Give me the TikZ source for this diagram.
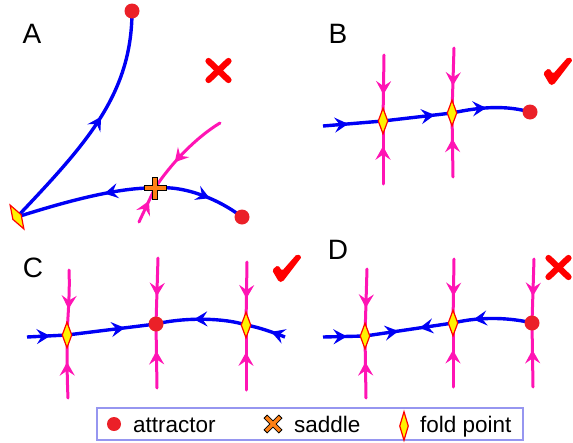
\documentclass[tikz,border=0pt]{standalone}
\usepackage{fontspec}
\setmainfont{Liberation Sans}
\usetikzlibrary{arrows.meta,decorations.markings,shapes.geometric}
\definecolor{fblue}{RGB}{0,0,245}
\definecolor{fmag}{RGB}{255,20,180}
\definecolor{fred}{RGB}{235,32,40}
\definecolor{xred}{RGB}{255,0,0}
\definecolor{sorange}{RGB}{255,128,20}
\definecolor{lbox}{RGB}{150,150,240}
\pgfdeclarelayer{bg}
\pgfsetlayers{bg,main}
\tikzset{
  headtip/.tip={Stealth[length=13.5pt,width=15pt,inset=5pt]},
  flowline/.style={fblue, line width=3.4pt},
  sepline/.style={fmag, line width=3pt, line cap=round},
  tipat/.style={postaction={decorate}, decoration={markings,
      mark=at position #1 with {\arrow{headtip}}}},
  tiptwo/.style 2 args={postaction={decorate}, decoration={markings,
      mark=at position #1 with {\arrow{headtip}},
      mark=at position #2 with {\arrowreversed{headtip}}}},
  attr/.style={circle, fill=fred, minimum size=15pt, inner sep=0pt},
  fold/.style={diamond, fill=yellow, draw=xred, line width=1.2pt,
      minimum width=10pt, minimum height=26pt, inner sep=0pt},
  lab/.style={font=\fontsize{28}{30}\selectfont, anchor=base, inner sep=0pt},
  legtext/.style={font=\fontsize{22.5}{25}\selectfont, anchor=base west, inner sep=0pt},
  saddlemark/.pic={
    \filldraw[fill=sorange, draw=black, line width=0.8pt]
      (-2.3,-11) -- (2.3,-11) -- (2.3,-2.3) -- (11,-2.3) -- (11,2.3) -- (2.3,2.3)
      -- (2.3,11) -- (-2.3,11) -- (-2.3,2.3) -- (-11,2.3) -- (-11,-2.3) -- (-2.3,-2.3) -- cycle;
  },
  checkmk/.pic={
    \fill[xred, rounded corners=1.8pt]
      (0,16) -- (6,11) -- (10,17) -- (25,0) -- (30,2.5) -- (10.5,28) -- (7,28) -- cycle;
  },
  crossmk/.pic={
    \draw[xred, line width=6.2pt, line cap=round] (-10,-9.5) -- (10,9.5);
    \draw[xred, line width=6.2pt, line cap=round] (10,-9.5) -- (-10,9.5);
  },
}
\begin{document}
\begin{tikzpicture}[x=1pt, y=-1pt]
\useasboundingbox (0,0) rectangle (573,442);

% ---------------- Panel A ----------------
\node[lab] (labA) at (32,43) {A};
\node[attr] (aA1) at (132,11) {};
\node[attr] (aA2) at (242,217) {};
\node[fold, rotate=30, minimum height=28pt] (fA) at (17,217) {};
\coordinate (sA) at (155,188);
\coordinate (mA1) at (220,123);
\coordinate (mA2) at (139,222);
\begin{pgfonlayer}{bg}
\draw[flowline, tipat=0.54] (fA.center) .. controls (85,145) and (132,95) .. (aA1.center);
\draw[flowline, tipat=0.36] (sA) .. controls (115,187) and (55,205) .. (fA.center);
\draw[flowline, tipat=0.6] (sA) .. controls (185,185) and (220,200) .. (aA2.center);
\draw[sepline, tipat=0.65] (mA1) .. controls (195,138) and (170,165) .. (sA);
\draw[sepline, tipat=0.62] (mA2) -- (sA);
\end{pgfonlayer}
\pic at (sA) {saddlemark};
\pic at (218.5,70.5) {crossmk};

% ---------------- Panel B ----------------
\node[lab] (labB) at (338,43) {B};
\node[fold] (fB1) at (383,121) {};
\node[fold] (fB2) at (452,113) {};
\node[attr] (aB) at (530,112) {};
\coordinate (sB) at (323,126);
\coordinate (tB1) at (384,55);
\coordinate (bB1) at (383,184);
\coordinate (tB2) at (454,48);
\coordinate (bB2) at (453,177);
\begin{pgfonlayer}{bg}
\draw[flowline, tipat=0.42] (sB) -- (fB1.center);
\draw[flowline, tipat=0.75] (fB1.center) -- (fB2.center);
\draw[flowline, tipat=0.44] (fB2.center) .. controls (480,107) and (505,105) .. (aB.center);
\draw[sepline, tipat=0.6] (tB1) -- (fB1.center);
\draw[sepline, tipat=0.6] (bB1) -- (fB1.center);
\draw[sepline, tipat=0.58] (tB2) -- (fB2.center);
\draw[sepline, tipat=0.6] (bB2) -- (fB2.center);
\end{pgfonlayer}
\pic at (543,57) {checkmk};

% ---------------- Panel C ----------------
\node[lab] (labC) at (33,277) {C};
\node[fold] (fC1) at (67,335) {};
\node[attr] (aC) at (156,324) {};
\node[fold] (fC2) at (246,325) {};
\coordinate (sC) at (27,337);
\coordinate (eC) at (285,337);
\coordinate (tC1) at (69,270);
\coordinate (bC1) at (68,398);
\coordinate (tC2) at (158,258);
\coordinate (bC2) at (157,388);
\coordinate (tC3) at (247,262);
\coordinate (bC3) at (246,390);
\begin{pgfonlayer}{bg}
\draw[flowline, tipat=0.58] (sC) -- (fC1.center);
\draw[flowline, tipat=0.65] (fC1.center) -- (aC.center);
\draw[flowline, tipat=0.58] (fC2.center) .. controls (225,318) and (185,317) .. (aC.center);
\draw[flowline, tipat=0.36] (eC) .. controls (272,332) and (258,327) .. (fC2.center);
\draw[sepline, tipat=0.6] (tC1) .. controls (70,292) and (68,314) .. (fC1.center);
\draw[sepline, tipat=0.57] (bC1) .. controls (67,377) and (67,356) .. (fC1.center);
\draw[sepline, tipat=0.58] (tC2) -- (aC.center);
\draw[sepline, tipat=0.58] (bC2) -- (aC.center);
\draw[sepline, tipat=0.58] (tC3) -- (fC2.center);
\draw[sepline, tipat=0.58] (bC3) -- (fC2.center);
\end{pgfonlayer}
\pic at (272,254) {checkmk};

% ---------------- Panel D ----------------
\node[lab] (labD) at (338,259) {D};
\node[fold] (fD1) at (365,336) {};
\node[fold] (fD2) at (453,323) {};
\node[attr] (aD) at (532,323) {};
\coordinate (sD) at (323,337);
\coordinate (tD1) at (367,269);
\coordinate (bD1) at (366,398);
\coordinate (tD2) at (454,259);
\coordinate (bD2) at (453,387);
\coordinate (tD3) at (534,259);
\coordinate (bD3) at (533,387);
\begin{pgfonlayer}{bg}
\draw[flowline, tipat=0.57] (sD) -- (fD1.center);
\draw[flowline, tiptwo={0.38}{0.62}] (fD1.center) -- (fD2.center);
\draw[flowline, tipat=0.74] (aD.center) .. controls (512,318) and (482,316) .. (fD2.center);
\draw[sepline, tipat=0.58] (tD1) -- (fD1.center);
\draw[sepline, tipat=0.58] (bD1) -- (fD1.center);
\draw[sepline, tipat=0.58] (tD2) -- (fD2.center);
\draw[sepline, tipat=0.58] (bD2) -- (fD2.center);
\draw[sepline, tipat=0.58] (tD3) -- (aD.center);
\draw[sepline, tipat=0.58] (bD3) -- (aD.center);
\end{pgfonlayer}
\pic at (558.5,267.5) {crossmk};

% ---------------- Legend ----------------
\draw[lbox, line width=2.5pt] (97,408) rectangle (523,440);
\node[attr, minimum size=14pt] (lgA) at (114,424) {};
\node[legtext] (lgAt) at (133,432) {attractor};
\pic[rotate=45, scale=0.95] at (273,424) {saddlemark};
\node[legtext] (lgSt) at (294,432) {saddle};
\node[fold, minimum height=29pt, minimum width=9pt] (lgF) at (404,426) {};
\node[legtext] (lgFt) at (420,432) {fold point};
\end{tikzpicture}
\end{document}
